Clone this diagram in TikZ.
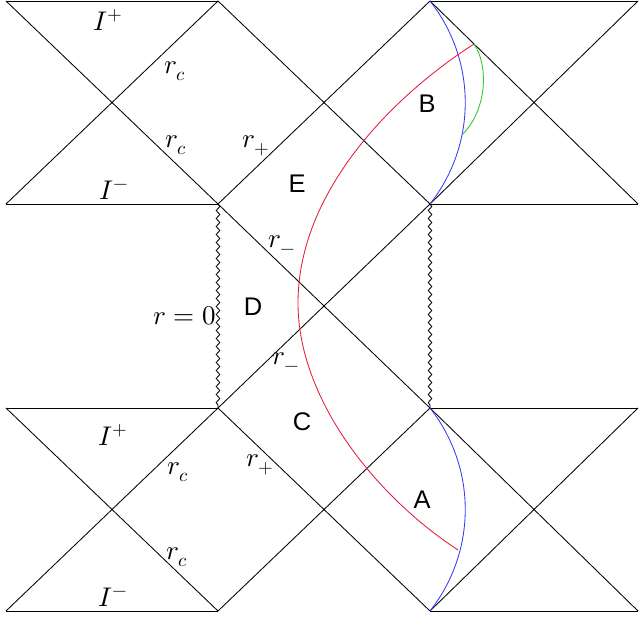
\documentclass[tikz,border=0pt]{standalone}
\usepackage{fontspec}
\usepackage{unicode-math}
\setmathfont{Latin Modern Math}
\usepackage{tikz}
\usetikzlibrary{decorations.pathmorphing}
\newfontfamily\lbfont{Liberation Sans}
\definecolor{curvered}{RGB}{228,28,58}
\definecolor{curveblue}{RGB}{55,60,245}
\definecolor{curvegreen}{RGB}{40,200,40}

\begin{document}
\begin{tikzpicture}[x=1pt, y=-1pt, line width=0.85pt,
    every node/.style={font=\fontsize{27}{32}\selectfont, inner sep=0pt},
    sing/.style={decorate, decoration={snake, amplitude=1.8pt, segment length=8pt}},
    region/.style={font=\fontsize{25.5}{30}\selectfont\lbfont}]
        \useasboundingbox (0,0) rectangle (639,620);

        % Lattice points
        \coordinate (a0) at (6,1);   \coordinate (a1) at (218,1);   \coordinate (a2) at (430,1);   \coordinate (a3) at (638,1);
        \coordinate (b0) at (6,204); \coordinate (b1) at (218,204); \coordinate (b2) at (430,204); \coordinate (b3) at (638,204);
        \coordinate (c0) at (6,408); \coordinate (c1) at (218,408); \coordinate (c2) at (430,408); \coordinate (c3) at (638,408);
        \coordinate (d0) at (6,611); \coordinate (d1) at (218,611); \coordinate (d2) at (430,611); \coordinate (d3) at (638,611);

        % Top row
        \draw (a0) -- (a1) (b0) -- (b1) (a2) -- (a3) (b2) -- (b3);
        \draw (a0) -- (b1) (a1) -- (b0);
        \draw (a1) -- (b2) (b1) -- (a2);
        \draw (a2) -- (b3) (b2) -- (a3);

        % Middle row
        \draw (b1) -- (c2) (c1) -- (b2);
        \draw[sing] (b1) -- (c1);
        \draw[sing] (b2) -- (c2);

        % Bottom row
        \draw (c0) -- (c1) (d0) -- (d1) (c2) -- (c3) (d2) -- (d3);
        \draw (c0) -- (d1) (c1) -- (d0);
        \draw (c1) -- (d2) (d1) -- (c2);
        \draw (c2) -- (d3) (d2) -- (c3);

        % Curves
        \coordinate (g0) at (474,44);
        \coordinate (g1) at (463,134);
        \coordinate (rmid) at (298,303);
        \coordinate (rend) at (458,550);
        \draw[curveblue] (a2) .. controls (477,61) and (477,144) .. (b2);
        \draw[curveblue] (c2) .. controls (477,468) and (477,551) .. (d2);
        \draw[curvegreen] (g0) .. controls (488,64) and (488,108) .. (g1);
        \draw[curvered] (g0) .. controls (390,98) and (298,193) .. (rmid)
            .. controls (298,398) and (374,495) .. (rend);

        % Labels
        \node (scriTop) at (108,20) {$I^+$};
        \node (rcTopA) at (175,71) {$r_c$};
        \node (rcTopB) at (176,145) {$r_c$};
        \node (rpTop) at (256,146) {$r_+$};
        \node (scriTopM) at (114,190) {$I^-$};
        \node (rmTop) at (282,245) {$r_-$};
        \node[anchor=east] (rzero) at (216,316) {$r=0$};
        \node (rmBot) at (286,362) {$r_-$};
        \node (scriBot) at (113,435) {$I^+$};
        \node (rcBotA) at (178,472) {$r_c$};
        \node (rpBot) at (260,465) {$r_+$};
        \node (rcBotB) at (177,557) {$r_c$};
        \node (scriBotM) at (113,597) {$I^-$};

        \node[region] (regB) at (427,104) {B};
        \node[region] (regE) at (297,184) {E};
        \node[region] (regD) at (253,307) {D};
        \node[region] (regC) at (302,422) {C};
        \node[region] (regA) at (422,500) {A};
\end{tikzpicture}
\end{document}
